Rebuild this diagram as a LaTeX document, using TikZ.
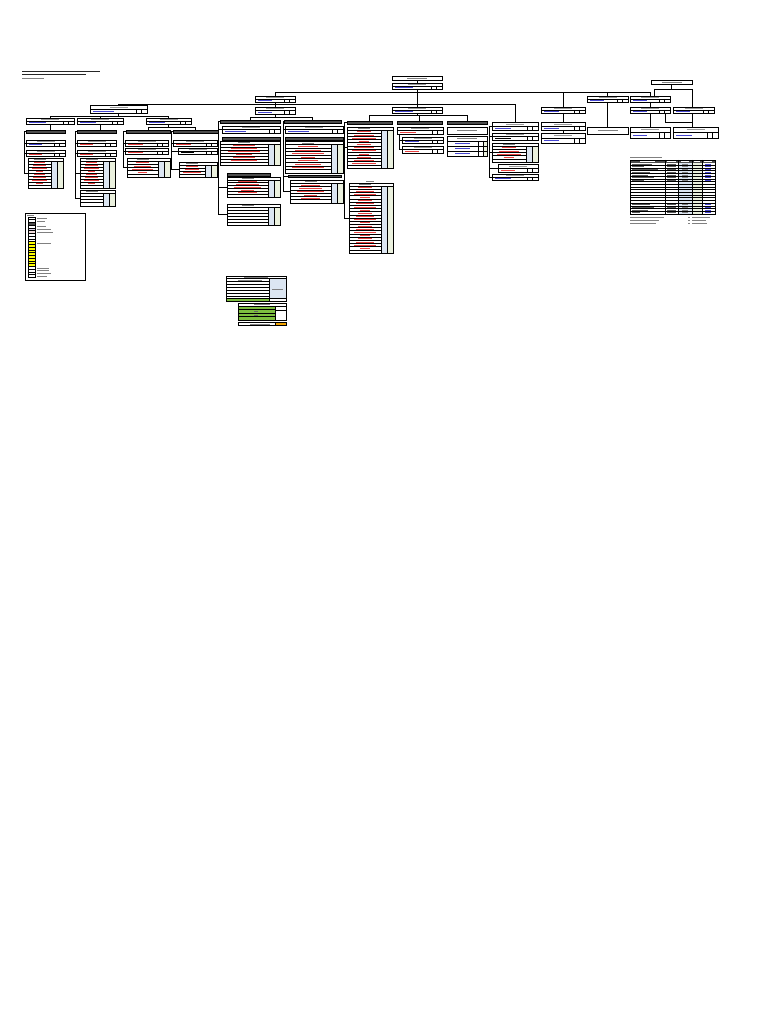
\documentclass[tikz,border=0pt]{standalone}
\definecolor{hdrgray}{HTML}{4D4D4D}
\definecolor{bluecol}{HTML}{DCE6F2}
\definecolor{greencol}{HTML}{EBF1DE}
\definecolor{txtred}{HTML}{E84040}
\definecolor{txtblue}{HTML}{4545D0}
\definecolor{limegreen}{HTML}{7DBF3F}
\definecolor{orng}{HTML}{F2A300}
\definecolor{ylw}{HTML}{FFFF00}
\definecolor{lilac}{HTML}{D9D2E9}
\definecolor{pinkish}{HTML}{F2DCDB}
\tikzset{
 ln/.style={line width=0.6pt},
 bxs/.style={draw, line width=0.7pt, inner sep=0pt, outer sep=0pt, anchor=north west, fill=white},
 txt/.style={line width=0.55pt},
}
\newcommand\mkR[6][]{\pgfmathsetmacro\bw{#5-#3}\pgfmathsetmacro\bh{#6-#4}\node[bxs,minimum width=\bw pt,minimum height=\bh pt,#1] (#2) at (#3,#4) {};}
\newcommand\mkH[5]{\mkR[fill=hdrgray]{#1}{#2}{#3}{#4}{#5}}
\newcommand\mkL[5]{\mkR{#1}{#2}{#3}{#4}{#5}\pgfmathsetmacro\xm{(#2+#4)/2}\pgfmathsetmacro\ym{(#3+#5)/2}\draw[txt,gray] ({\xm-10},\ym) -- ({\xm+10},\ym);}
\newcommand\mkU[6][txtblue]{%
 \mkR{#2}{#3}{#4}{#5}{#6}%
 \pgfmathsetmacro\ym{(#4+#6)/2}%
 \pgfmathsetmacro\ca{#5-11}\pgfmathsetmacro\cb{#5-5.5}%
 \draw[ln] (#3,\ym) -- (#5,\ym) (\ca,\ym) -- (\ca,#6) (\cb,\ym) -- (\cb,#6);%
 \pgfmathsetmacro\ta{#3+3}\pgfmathsetmacro\tb{#3+(#5-#3)*0.42}\pgfmathsetmacro\yt{(\ym+#6)/2}%
 \draw[txt,draw=#1] (\ta,\yt) -- (\tb,\yt);%
 \pgfmathsetmacro\xm{(#3+#5)/2}\pgfmathsetmacro\yl{(#4+\ym)/2}%
 \draw[txt,gray!80] ({\xm-9},\yl) -- ({\xm+9},\yl);}
\newcommand\mkT[7][txtred]{%
 \mkR{#2}{#3}{#4}{#5}{#6}%
 \pgfmathsetmacro\rh{(#6-#4)/#7}%
 \pgfmathsetmacro\ca{#5-12}\pgfmathsetmacro\cb{#5-6}%
 \pgfmathsetmacro\yb{#4+\rh}%
 \fill[bluecol] (\ca,\yb) rectangle (\cb,#6);%
 \fill[greencol] (\cb,\yb) rectangle (#5,#6);%
 \draw[ln] (\ca,\yb) -- (\ca,#6) (\cb,\yb) -- (\cb,#6);%
 \draw[ln] (#3,\yb) -- (#5,\yb);%
 \pgfmathtruncatemacro\nr{#7-1}%
 \pgfmathsetmacro\xc{(#3+\ca)/2}%
 \pgfmathsetmacro\yt{#4+0.5*\rh}%
 \draw[txt,gray] ({\xc-6},\yt) -- ({\xc+6},\yt);%
 \foreach \i in {1,...,\nr}{%
   \draw[ln] (#3,{#4+\i*\rh}) -- (\ca,{#4+\i*\rh});%
   \pgfmathsetmacro\yy{#4+(\i+0.5)*\rh}%
   \pgfmathsetmacro\hl{(\ca-#3)*(0.16+0.06*mod(\i*5,4))}%
   \ifnum\i<\nr \draw[txt,draw=#1] ({\xc-\hl},\yy) -- ({\xc+\hl},\yy);\fi}%
 \draw[line width=0.7pt] (#2.north west) rectangle (#2.south east);}
\begin{document}
\begin{tikzpicture}[x=1pt,y=-1pt]
\useasboundingbox (0,0) rectangle (768,1024);
\fill[white] (0,0) rectangle (768,1024);
% title
\draw[line width=0.9pt,black!85] (22,71) -- (100,71);
\draw[line width=0.8pt,black!85] (22,74.5) -- (86,74.5);
\draw[line width=0.5pt,gray] (22,78) -- (44,78);
% bus coordinates
\coordinate (b92) at (279,92);
\coordinate (b104) at (118,104);
\coordinate (b116) at (47,116);
\coordinate (b127) at (147,127.5);
\coordinate (b117) at (250,117);
\coordinate (b115) at (368,115.5);
\coordinate (r24) at (24,0);
\coordinate (r75) at (75,0);
\coordinate (r123) at (123,0);
\coordinate (r171) at (171,0);
\coordinate (r218) at (218,0);
\coordinate (r283) at (283,0);
\coordinate (r344) at (344,0);
\coordinate (r399) at (399.5,0);
\coordinate (r489) at (489,0);
\coordinate (r654) at (654,89);
\coordinate (r692) at (692,89);
\coordinate (r665) at (665,122);
% ---------- nodes ----------
\mkL{T0t}{392}{76}{442}{80}
\mkU{T0}{392}{83}{442}{89}
\mkL{R0}{651}{80}{692}{84}
\mkU{L1a}{255}{96}{295}{102}
\mkU{L1b}{587}{96}{628}{102}
\mkU{L1c}{630}{96}{670}{102}
\mkU{A}{90}{105}{147}{113}
\mkU{B}{255}{107}{295}{114}
\mkU{C}{392}{107}{442}{113}
\mkU{D}{541}{107}{585}{113}
\mkU{E}{630}{107}{670}{113}
\mkU{F}{673}{107}{714}{113}
\mkU{A1}{26}{118}{74}{124}
\mkU{A2}{77}{118}{123}{124}
\mkU{A3}{146}{118}{191}{124}
\mkH{H1}{26}{130}{65}{133}
\mkH{H2}{77}{130}{116}{133}
\mkH{H3}{126}{130}{170}{133}
\mkH{H4}{173}{130}{218}{133}
% col1
\mkU{U11}{26}{140}{65}{146}
\mkU[txtred]{U12}{26}{150}{65}{156}
\mkT{T11}{28}{158}{63}{188}{10}
% col2
\mkU[txtred]{U21}{77}{140}{116}{146}
\mkU[txtred]{U22}{77}{150}{116}{156}
\mkT{T21}{80}{158}{115}{188}{10}
\mkT[none]{T22}{80}{190}{115}{206}{5}
% col3
\mkU[txtred]{U31}{125}{140}{168}{146}
\mkU[txtred]{U32}{125}{148}{168}{154}
\mkT{T31}{127}{158}{170}{177}{6}
% col4
\mkU[txtred]{U41}{173}{140}{217}{146}
\mkU[black]{U42}{178}{148}{217}{154}
\mkT{T41}{179}{162}{217}{177}{5}
% col5
\mkH{H5}{220}{120}{280}{123}
\mkU{U51}{222}{126}{280}{133}
\mkH{G51}{222}{137}{280}{140}
\mkT{T51}{220}{141}{280}{165}{8}
\mkH{G52}{227}{173}{270}{176}
\mkT{T52}{227}{177}{280}{197}{7}
\mkT[none]{T53}{227}{204}{280}{225}{7}
% col6
\mkH{H6}{284}{120}{341}{123}
\mkU{U61}{285}{126}{343}{133}
\mkH{G61}{285}{137}{343}{140}
\mkT{T61}{285}{141}{343}{173}{9}
\mkH{G62}{288}{175}{341}{177}
\mkT{T62}{290}{180}{343}{203}{7}
% col7
\mkH{H7}{347}{121}{392}{124}
\mkT{T71}{347}{127}{393}{168}{13}
\draw[txt,gray,line width=0.5pt] (366,181) -- (374,181);
\mkT{T72}{349}{183}{393}{253}{22}
% col8
\mkH{H8}{397}{121}{442}{124}
\mkU[txtred]{U81}{397}{127}{443}{134}
\mkU{U82}{402}{137}{443}{143}
\mkU[txtred]{U83}{402}{146}{443}{153}
% col9
\mkH{H9}{447}{121}{487}{124}
\mkL{S91}{447}{127}{487}{134}
\mkR{T91}{447}{136}{487}{156}
\fill[greencol] (483,141) rectangle (487,156);
\draw[ln] (447,141) -- (487,141) (447,146) -- (487,146) (447,151) -- (487,151) (478,141) -- (478,156) (483,141) -- (483,156);
\draw[txt,gray] (457,138.5) -- (477,138.5);
\foreach \yy in {143.5,148.5,153.5} \draw[txt,txtblue] (455,\yy) -- (470,\yy);
\draw[line width=0.7pt] (T91.north west) rectangle (T91.south east);
% col10
\mkU{K1}{492}{122}{538}{130}
\mkU[black]{K2}{492}{133}{538}{140}
\mkT{K3}{492}{143}{538}{162}{6}
\mkU[txtred]{K4}{498}{164}{538}{172}
\mkU{K5}{492}{174}{538}{180}
% col11
\mkU{M1}{541}{122}{585}{130}
\mkU{M2}{541}{133}{585}{143}
% right
\mkL{S1}{587}{127}{628}{134}
\mkU{E1}{630}{127}{670}{138}
\mkU{F1}{673}{127}{718}{138}
% ---------- connectors ----------
\draw[ln] (T0t.south) -- (T0.north);
\draw[ln] (T0.south) -- (C.north);
\draw[ln] (L1a.north) -- (L1a.north |- b92) -| (L1c.north);
\draw[ln] (D.north) -- (D.north |- b92);
\draw[ln] (L1b.north) -- (L1b.north |- b92);
\draw[ln] (A.north |- b104) -- (K1.north |- b104);
\draw[ln] (A.north) -- (A.north |- b104);
\draw[ln] (K1.north) -- (K1.north |- b104);
\draw[ln] (L1a.south) -- (B.north);
\draw[ln] (R0.south) -- (R0.south |- r654);
\draw[ln] (r654) -- (r692);
\draw[ln] (r654) -- (r654 |- L1c.north);
\draw[ln] (r692) -- (r692 |- F.north);
\draw[ln] (L1b.south) -- (S1.north);
\draw[ln] (L1c.south) -- (E.north);
\draw[ln] (E.south) -- (E1.north);
\draw[ln] (F.south -| r692) -- (r692 |- F1.north);
\draw[ln] (E.south -| r665) |- (r692 |- r665);
% left group
\draw[ln] (A.south) -- (A.south |- b116);
\draw[ln] (A1.north |- b116) -- (A3.north |- b116);
\draw[ln] (A1.north) -- (A1.north |- b116);
\draw[ln] (A2.north) -- (A2.north |- b116);
\draw[ln] (A3.north) -- (A3.north |- b116);
\draw[ln] (A1.south) -- (A1.south |- H1.north);
\draw[ln] (A2.south) -- (A2.south |- H2.north);
\draw[ln] (A3.south) -- (A3.south |- b127);
\draw[ln] (H3.north |- b127) -- (H4.north |- b127);
\draw[ln] (H3.north) -- (H3.north |- b127);
\draw[ln] (H4.north) -- (H4.north |- b127);
\draw[ln] (H1.west) -- (H1.west -| r24) |- (T11.west);
\draw[ln] (U11.west -| r24) -- (U11.west) (U12.west -| r24) -- (U12.west);
\draw[ln] (H2.west) -- (H2.west -| r75) |- (T22.west);
\draw[ln] (U21.west -| r75) -- (U21.west) (U22.west -| r75) -- (U22.west) (T21.west -| r75) -- (T21.west);
\draw[ln] (H3.west) -- (H3.west -| r123) |- (T31.west);
\draw[ln] (U31.west -| r123) -- (U31.west) (U32.west -| r123) -- (U32.west);
\draw[ln] (H4.west) -- (H4.west -| r171) |- (T41.west);
\draw[ln] (U41.west -| r171) -- (U41.west) (U42.west -| r171) -- (U42.west);
% col5/6
\draw[ln] (B.south) -- (B.south |- b117);
\draw[ln] (H5.north |- b117) -- (H6.north |- b117);
\draw[ln] (H5.north) -- (H5.north |- b117);
\draw[ln] (H6.north) -- (H6.north |- b117);
\draw[ln] (H5.west) -- (H5.west -| r218) |- (T53.west);
\draw[ln] (U51.west -| r218) -- (U51.west) (T52.west -| r218) -- (T52.west);
\draw[ln] (H6.west) -- (H6.west -| r283) |- (T62.west);
\draw[ln] (U61.west -| r283) -- (U61.west) (G62.west -| r283) -- (G62.west);
% col7-9
\draw[ln] (C.south) -- (C.south |- b115);
\draw[ln] (H7.north |- b115) -- (H9.north |- b115);
\draw[ln] (H7.north) -- (H7.north |- b115);
\draw[ln] (H8.north) -- (H8.north |- b115);
\draw[ln] (H9.north) -- (H9.north |- b115);
\draw[ln] (H7.west) -- (H7.west -| r344) |- (T72.west);
\draw[ln] (T71.west -| r344) -- (T71.west);
\draw[ln] (U81.south -| r399) |- (U83.west);
\draw[ln] (U82.west -| r399) -- (U82.west);
% col10/11
\draw[ln] (K1.west) -- (K1.west -| r489) |- (K5.west);
\draw[ln] (K2.west -| r489) -- (K2.west) (K3.west -| r489) -- (K3.west) (K4.west -| r489) -- (K4.west);
\draw[ln] (D.south) -- (M1.north);
\draw[ln] (M1.south) -- (M2.north);
% ---------- summary table ----------
\draw[txt,gray,line width=0.5pt] (630,157.5) -- (662,157.5);
\mkR{ST}{630}{160}{715}{214}
\fill[hdrgray] (630,160) rectangle (715,162.6);
\fill[bluecol] (678,162.6) rectangle (692,214);
\fill[greencol] (692,162.6) rectangle (702,214);
\foreach \x in {665,678,692,702} \draw[ln] (\x,160) -- (\x,214);
\foreach \i in {1,...,19} \draw[line width=0.5pt] (630,{162.6+\i*2.7}) -- (715,{162.6+\i*2.7});
\foreach \i/\l in {0/20,1/12,2/26,3/18,4/16,5/22,6/12,15/18,16/22,17/16,18/8}{
 \draw[txt,black!65,line width=0.45pt] (632,{162.6+(\i+0.5)*2.7}) -- ({632+\l},{162.6+(\i+0.5)*2.7});
 \draw[txt,black!65,line width=0.45pt] (667,{162.6+(\i+0.5)*2.7}) -- (676,{162.6+(\i+0.5)*2.7});
 \draw[txt,black!50,line width=0.45pt] (682,{162.6+(\i+0.5)*2.7}) -- (688,{162.6+(\i+0.5)*2.7});
 \draw[txt,txtblue,line width=0.45pt] (705,{162.6+(\i+0.5)*2.7}) -- (711,{162.6+(\i+0.5)*2.7});}
\draw[txt,white,line width=0.5pt] (640,161.3) -- (655,161.3) (667,161.3) -- (676,161.3) (681,161.3) -- (689,161.3) (694,161.3) -- (700,161.3) (704,161.3) -- (712,161.3);
\draw[line width=0.7pt] (ST.north west) rectangle (ST.south east);
\draw[txt,gray,line width=0.5pt] (630,217.7) -- (664,217.7) (630,220.3) -- (659,220.3) (630,223) -- (656,223);
\draw[txt,gray,line width=0.5pt] (688,217.7) -- (689.5,217.7) (688,220.3) -- (689.5,220.3) (688,223) -- (689.5,223);
\draw[txt,gray,line width=0.5pt] (692,217.7) -- (710,217.7) (692,220.3) -- (706,220.3) (692,223) -- (707,223);
% ---------- legend ----------
\mkR{LG}{25}{213}{85}{280}
\draw[txt,gray,line width=0.5pt] (27,215.3) -- (34,215.3);
\foreach \i/\c in {0/white,1/white,2/hdrgray,3/white,4/lilac,5/pinkish,6/white,7/white,8/white,9/ylw,10/ylw,11/ylw,12/ylw,13/ylw,14/ylw,15/ylw,16/ylw,17/ylw,18/white,19/white,20/white,21/white}
 \draw[line width=0.6pt,fill=\c] (28,{217+\i*2.75}) rectangle (35,{217+(\i+1)*2.75});
\foreach \i/\l in {0/10,1/8,3/9,4/14,5/16,9/14,18/12,19/12,20/14,21/10}
 \draw[txt,gray,line width=0.5pt] (37,{217+(\i+0.5)*2.75}) -- ({37+\l},{217+(\i+0.5)*2.75});
% ---------- bottom panels ----------
\mkR{P1}{226}{276}{286}{301}
\fill[bluecol] (269,278.5) rectangle (286,298);
\fill[limegreen] (226,298) rectangle (269,301);
\draw[ln] (226,278.5) -- (286,278.5) (269,278.5) -- (269,301);
\foreach \yy in {281,284,287,290,293,296,298} \draw[ln] (226,\yy) -- (269,\yy);
\draw[ln] (269,298) -- (286,298);
\draw[txt,gray,line width=0.5pt] (244,277.2) -- (268,277.2) (238,279.8) -- (262,279.8) (272,289) -- (283,289);
\draw[line width=0.7pt] (P1.north west) rectangle (P1.south east);
\mkR{P2}{238}{303}{286}{320}
\fill[limegreen] (238,306) rectangle (275,320);
\draw[ln] (238,306) -- (286,306) (275,306) -- (275,320) (275,310) -- (286,310);
\foreach \yy in {309.5,313,316.5} \draw[ln] (238,\yy) -- (275,\yy);
\draw[txt,gray,line width=0.5pt] (254,304.5) -- (270,304.5);
\draw[txt,black!60,line width=0.5pt] (254,311.2) -- (258,311.2) (254,314.8) -- (258,314.8);
\draw[line width=0.7pt] (P2.north west) rectangle (P2.south east);
\mkR{P3}{238}{322}{286}{325.5}
\fill[orng] (275,322) rectangle (285.5,325.5);
\draw[ln] (275,322) -- (275,325.5);
\draw[txt,gray,line width=0.5pt] (250,323.8) -- (270,323.8);
\draw[line width=0.7pt] (P3.north west) rectangle (P3.south east);
\end{tikzpicture}
\end{document}
